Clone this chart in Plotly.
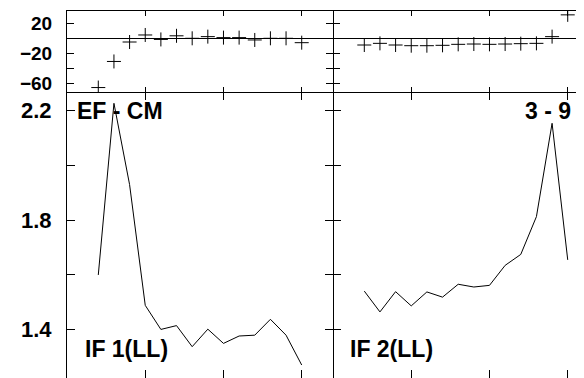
import plotly.graph_objects as go

# ---- data ----
x_vals = [2, 3, 4, 5, 6, 7, 8, 9, 10, 11, 12, 13, 14, 15]
top_left = [-65.3, -30.7, -4.9, 4.4, -1.5, 3.3, 0.0, 2.2, 0.9, 0.9, -2.2, 0.0, 0.0, -5.8]
top_right = [-8.9, -6.7, -8.9, -9.8, -9.8, -9.3, -8.0, -7.6, -8.0, -7.6, -7.1, -6.7, 2.2, 31.1]
bottom_left = [1.60, 2.227, 1.93, 1.489, 1.401, 1.415, 1.338, 1.402, 1.350, 1.377, 1.380, 1.438, 1.380, 1.271]
bottom_right = [1.541, 1.465, 1.539, 1.487, 1.538, 1.519, 1.566, 1.556, 1.562, 1.635, 1.675, 1.813, 2.154, 1.655]

top_tickvals = [20, 0, -20, -40, -60]
top_ticktext = ["20", "", "\u221220", "", "\u221260"]
bot_tickvals = [2.2, 2.0, 1.8, 1.6, 1.4]
bot_ticktext = ["2.2", "", "1.8", "", "1.4"]

labels = ["EF - CM", "3 - 9", "IF 1(LL)", "IF 2(LL)"]

FONT = "Liberation Sans, Arial, sans-serif"
split = 266 / 517
ysplit = 286 / 367

fig = go.Figure()
marker = dict(symbol="cross-thin", size=10, line=dict(width=1, color="black"), color="black")
fig.add_trace(go.Scatter(x=x_vals, y=top_left, mode="markers", marker=marker, xaxis="x", yaxis="y"))
fig.add_trace(go.Scatter(x=x_vals, y=top_right, mode="markers", marker=marker, xaxis="x2", yaxis="y2"))
fig.add_trace(go.Scatter(x=x_vals, y=bottom_left, mode="lines", line=dict(color="black", width=1), xaxis="x3", yaxis="y3"))
fig.add_trace(go.Scatter(x=x_vals, y=bottom_right, mode="lines", line=dict(color="black", width=1), xaxis="x4", yaxis="y4"))

xcommon_top = dict(showline=True, linecolor="black", linewidth=1, mirror="ticks", ticks="inside",
                   ticklen=5, tickcolor="black", tickmode="linear", tick0=0, dtick=5,
                   showticklabels=False, showgrid=False, zeroline=False, automargin=False)
xcommon_bot = dict(showline=True, linecolor="rgba(0,0,0,0)", linewidth=1, mirror="ticks", ticks="inside",
                   ticklen=8, tickcolor="black", tickmode="linear", tick0=0, dtick=5,
                   showticklabels=False, showgrid=False, zeroline=False, automargin=False)

fig.update_layout(
    template="none",
    width=576, height=370,
    margin=dict(l=59, r=0, t=3, b=0, autoexpand=False),
    paper_bgcolor="white", plot_bgcolor="white",
    showlegend=False,
    font=dict(family=FONT, color="black", weight="bold"),
    xaxis=dict(domain=[0, split], range=[0, 17], anchor="y", **xcommon_top),
    xaxis2=dict(domain=[split, 1], range=[0, 16.04], anchor="y2", **xcommon_top),
    xaxis3=dict(domain=[0, split], range=[0, 17], anchor="y3", **xcommon_bot),
    xaxis4=dict(domain=[split, 1], range=[0, 16.04], anchor="y4", **xcommon_bot),
    yaxis=dict(domain=[ysplit, 1], range=[-71.2, 36.2], anchor="x", automargin=False,
               showline=True, linecolor="black", mirror="ticks", ticks="inside", ticklen=7,
               tickcolor="black", tickvals=top_tickvals, ticktext=top_ticktext,
               tickfont=dict(size=19, family=FONT, weight="bold"), ticklabelstandoff=10,
               showgrid=False, zeroline=True, zerolinecolor="black", zerolinewidth=1),
    yaxis2=dict(domain=[ysplit, 1], range=[-71.2, 36.2], anchor="x2", automargin=False,
                showline=False, mirror=False, ticks="inside", ticklen=7,
                tickcolor="black", tickvals=top_tickvals, showticklabels=False,
                showgrid=False, zeroline=True, zerolinecolor="black", zerolinewidth=1),
    yaxis3=dict(domain=[0, ysplit], range=[1.2236, 2.2683], anchor="x3", automargin=False,
                showline=True, linecolor="black", mirror="ticks", ticks="inside", ticklen=8,
                tickcolor="black", tickvals=bot_tickvals, ticktext=bot_ticktext,
                tickfont=dict(size=22, family=FONT, weight="bold"), ticklabelstandoff=10,
                showgrid=False, zeroline=False),
    yaxis4=dict(domain=[0, ysplit], range=[1.2236, 2.2683], anchor="x4", automargin=False,
                showline=False, mirror=False, ticks="inside", ticklen=8,
                tickcolor="black", tickvals=bot_tickvals, showticklabels=False,
                showgrid=False, zeroline=False),
)

ann_font = dict(size=23, family=FONT, weight="bold", color="black")
fig.add_annotation(text=labels[0], x=0.5, y=2.2, xref="x3", yref="y3", xanchor="left", yanchor="middle",
                   showarrow=False, font=ann_font)
fig.add_annotation(text=labels[1], x=15.32, y=2.2, xref="x4", yref="y4", xanchor="right", yanchor="middle",
                   showarrow=False, font=ann_font)
fig.add_annotation(text=labels[2], x=1.0, y=1.328, xref="x3", yref="y3", xanchor="left", yanchor="middle",
                   showarrow=False, font=ann_font)
fig.add_annotation(text=labels[3], x=0.98, y=1.328, xref="x4", yref="y4", xanchor="left", yanchor="middle",
                   showarrow=False, font=ann_font)

fig.write_html("out.html")
